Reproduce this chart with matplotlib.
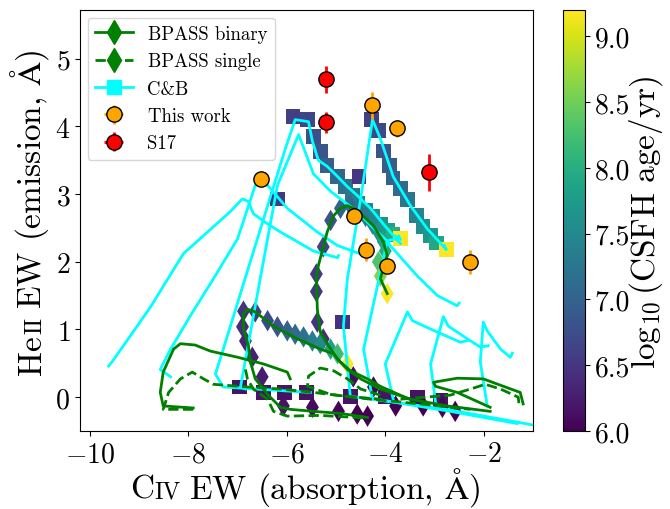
import numpy as np
import matplotlib
matplotlib.use('Agg')
import matplotlib.pyplot as plt
from matplotlib.lines import Line2D
from matplotlib.colors import Normalize
from matplotlib.cm import ScalarMappable

plt.rcParams['font.family'] = ['cmr10', 'DejaVu Serif']
plt.rcParams['mathtext.fontset'] = 'cm'
plt.rcParams['axes.formatter.use_mathtext'] = True

# C&B model tracks (CIV EW, HeII EW)
cb1_x = [-9.62, -9.54, -8.77, -8.10, -7.15, -6.90, -6.78, -6.68, -6.39, -6.13, -5.46, -4.97, -4.95]
cb1_y = [0.46, 0.53, 1.33, 2.12, 2.74, 2.93, 2.89, 2.71, 2.56, 2.44, 2.16, 2.06, 2.09]
cb2_x = [-8.36, -8.57, -8.36, -7.96, -7.49, -7.00, -6.64, -6.52, -6.33, -5.99, -5.38, -4.97, -4.44]
cb2_y = [0.30, 0.41, 0.71, 1.20, 1.75, 2.34, 3.13, 3.23, 3.08, 2.79, 2.44, 2.24, 2.10]
cb3_x = [-5.52, -7.29, -7.45, -7.29, -6.47, -6.03, -5.83, -5.56, -5.48, -5.36, -5.18, -4.97, -4.77, -4.57, -4.30, -4.04, -3.84, -3.69, -3.73]
cb3_y = [0.07, 0.15, 0.34, 0.71, 2.64, 3.67, 4.10, 4.07, 3.78, 3.50, 3.41, 3.26, 3.11, 2.98, 2.79, 2.56, 2.39, 2.33, 2.38]
cb4_x = [-6.84, -6.94, -6.54, -6.19, -5.76, -5.46, -5.11, -4.57, -4.16, -3.96, -3.90, -3.35, -2.94, -2.54, -2.50]
cb4_y = [0.12, 0.15, 1.75, 3.13, 3.88, 3.30, 3.04, 2.74, 2.44, 2.31, 2.24, 1.79, 1.50, 1.35, 1.39]
cb5_x = [-1.32, -2.68, -4.10, -4.71, -4.85, -4.77, -4.50, -4.26, -4.10, -3.84, -3.49, -3.15, -2.76, -2.80]
cb5_y = [-0.39, -0.21, -0.04, 0.01, 1.05, 1.75, 2.93, 4.10, 3.82, 3.26, 2.83, 2.49, 2.18, 2.24]
cb6_x = [-1.01, -2.68, -4.26, -4.44, -3.96, -3.79, -3.69]
cb6_y = [-0.41, -0.19, -0.03, 0.71, 2.31, 2.34, 2.27]
cb7_x = [-3.84, -4.00, -3.55, -3.45, -2.94, -2.47, -2.31]
cb7_y = [-0.03, 0.49, 1.26, 1.13, 0.96, 0.81, 0.84]
cb8_x = [-2.98, -3.08, -2.82, -2.72, -2.33, -2.07, -1.91]
cb8_y = [-0.07, 0.49, 1.19, 1.05, 0.86, 0.74, 0.76]
cb9_x = [-1.93, -2.07, -2.01, -1.93, -1.66, -1.46, -1.42]
cb9_y = [-0.13, 0.52, 1.11, 0.98, 0.71, 0.59, 0.65]

# C&B model points coloured by log age
cbs_x = [-5.87, -5.58, -5.46, -5.32, -5.18, -4.97, -4.81, -4.67, -4.55, -4.40, -4.26, -4.10, -3.96, -3.84, -3.69,
         -4.28, -4.14, -4.04, -3.92, -3.84, -3.69, -3.55, -3.37, -3.23, -3.08, -2.96, -2.76,
         -6.19, -4.53, -4.87,
         -6.96, -6.47, -6.05, -5.60, -4.71, -4.00, -3.35, -2.88]
cbs_y = [4.15, 4.10, 3.85, 3.63, 3.42, 3.26, 3.11, 2.98, 2.87, 2.76, 2.67, 2.56, 2.47, 2.40, 2.34,
         4.10, 3.94, 3.64, 3.42, 3.24, 3.08, 2.92, 2.68, 2.52, 2.39, 2.28, 2.18,
         2.93, 3.26, 1.11,
         0.15, 0.07, 0.07, 0.07, 0.01, 0.00, 0.00, -0.04]
cbs_age = [6.6, 6.65, 6.75, 6.85, 6.95, 7.05, 7.15, 7.25, 7.35, 7.45, 7.55, 7.65, 7.8, 8.0, 9.2,
           6.6, 6.7, 6.8, 6.9, 7.0, 7.1, 7.25, 7.4, 7.55, 7.7, 7.9, 9.2,
           6.5, 6.5, 6.45,
           6.15, 6.15, 6.15, 6.15, 6.15, 6.15, 6.15, 6.15]

# BPASS binary tracks (solid)
bb1_x = [-3.96, -4.10, -4.06, -3.96, -4.04, -4.24, -4.57, -4.77, -4.91, -5.05, -5.18, -5.36, -5.40, -5.38, -5.32, -5.18, -4.97, -4.77, -4.50, -4.10, -3.49, -2.74, -1.87]
bb1_y = [1.53, 1.75, 1.85, 2.09, 2.30, 2.53, 2.76, 2.83, 2.79, 2.68, 2.44, 1.94, 1.75, 1.30, 0.96, 0.79, 0.56, 0.41, 0.27, 0.12, -0.03, -0.13, -0.21]
bb2_x = [-4.36, -4.91, -5.46, -5.93, -6.13, -6.39, -6.64, -6.74, -6.78, -6.88, -6.88, -6.80, -6.64, -6.27, -5.78, -5.32, -5.05, -4.91, -4.71, -4.36, -4.10, -3.51]
bb2_y = [-0.30, -0.24, -0.21, -0.18, -0.15, 0.04, 0.27, 0.52, 0.76, 1.01, 1.23, 1.30, 1.26, 1.05, 0.86, 0.71, 0.64, 0.52, 0.39, 0.27, 0.16, -0.03]
bb3_x = [-7.90, -8.51, -8.57, -8.51, -8.30, -8.16, -7.86, -7.55, -7.00, -6.47, -5.99, -5.93]
bb3_y = [-0.16, -0.13, 0.07, 0.37, 0.71, 0.79, 0.77, 0.68, 0.59, 0.49, 0.37, 0.27]
bb4_x = [-1.87, -2.54, -2.98, -3.02, -2.54, -2.01, -1.60, -1.26, -1.20]
bb4_y = [-0.15, 0.07, 0.16, 0.22, 0.28, 0.27, 0.16, 0.07, -0.10]

# BPASS single tracks (dashed)
bs1_x = [-7.90, -8.51, -8.40, -8.16, -7.92, -7.69, -7.49, -6.80, -6.13, -5.46, -4.77, -4.10]
bs1_y = [-0.18, -0.18, 0.07, 0.27, 0.37, 0.27, 0.19, 0.15, 0.12, 0.07, 0.01, -0.03]
bs2_x = [-4.10, -4.50, -4.77, -5.05, -5.32, -5.56, -5.58, -5.11, -4.30, -3.29, -2.27]
bs2_y = [0.03, 0.12, 0.27, 0.39, 0.43, 0.31, 0.16, 0.04, -0.03, -0.10, -0.18]
bs3_x = [-6.84, -6.80, -6.68, -6.39, -6.27, -5.99, -5.32, -4.36]
bs3_y = [0.41, 0.27, 0.12, -0.03, -0.21, -0.28, -0.27, -0.31]
bs4_x = [-3.69, -2.68, -2.27, -1.97, -1.66, -1.30, -1.28]
bs4_y = [-0.03, 0.03, 0.12, 0.19, 0.12, 0.00, -0.13]

# BPASS model points coloured by log age
bp_x = [-4.24, -4.65, -5.26, -5.38, -5.40, -5.40, -5.26, -5.11, -4.91, -4.71, -4.55, -4.40, -4.26, -4.14, -4.04, -4.00, -4.14, -4.10, -3.96,
        -4.36, -4.57, -4.95, -5.48, -6.07, -6.50, -6.70, -6.84, -6.90, -6.88,
        -6.64, -6.39, -6.19, -5.99, -5.83, -5.66, -5.48, -5.32, -5.11, -4.97, -4.77,
        -3.79, -3.23, -2.84, -2.58]
bp_y = [0.15, 0.30, 0.86, 1.11, 1.56, 1.82, 2.22, 2.61, 2.79, 2.83, 2.76, 2.67, 2.56, 2.44, 2.30, 2.16, 2.00, 1.79, 1.53,
        -0.28, -0.25, -0.21, -0.15, -0.13, 0.30, 0.59, 0.83, 1.04, 1.27,
        1.26, 1.13, 1.04, 0.98, 0.93, 0.89, 0.83, 0.79, 0.71, 0.64, 0.49,
        -0.13, -0.13, -0.15, -0.21]
bp_age = [6.05, 6.1, 6.4, 6.45, 6.5, 6.55, 6.65, 6.8, 7.0, 7.1, 7.2, 7.3, 7.45, 7.6, 7.8, 7.95, 8.3, 8.6, 9.2,
          6.0, 6.0, 6.05, 6.1, 6.15, 6.25, 6.3, 6.35, 6.4, 6.45,
          6.55, 6.7, 6.85, 7.0, 7.1, 7.2, 7.35, 7.5, 7.8, 8.2, 9.2,
          6.0, 6.0, 6.05, 6.0]

# Observations
tw_x = [-6.52, -4.26, -3.76, -4.63, -4.40, -3.96, -2.27]
tw_y = [3.23, 4.31, 3.97, 2.68, 2.18, 1.94, 2.00]
tw_xerr = [0.1, 0.1, 0.1, 0.1, 0.1, 0.1, 0.1]
tw_yerr = [0.08, 0.2, 0.13, 0.1, 0.17, 0.08, 0.18]
s17_x = [-5.21, -5.20, -3.12]
s17_y = [4.70, 4.06, 3.32]
s17_xerr = [0.1, 0.1, 0.1]
s17_yerr = [0.2, 0.16, 0.27]

norm = Normalize(vmin=6.0, vmax=9.2)
cmap = 'viridis'

fig = plt.figure(figsize=(6.7, 5.1), dpi=100)
W, H = 670.0, 510.0
ax = fig.add_axes([80 / W, 78 / H, 453 / W, 421 / H])
cax = fig.add_axes([563 / W, 78 / H, 22 / W, 421 / H])

ax.scatter(cbs_x, cbs_y, c=cbs_age, cmap=cmap, norm=norm, marker='s', s=110, lw=0, zorder=1)
ax.scatter(bp_x, bp_y, c=bp_age, cmap=cmap, norm=norm, marker='d', s=120, lw=0, zorder=1)

for tx, ty in [(cb1_x, cb1_y), (cb2_x, cb2_y), (cb3_x, cb3_y), (cb4_x, cb4_y), (cb5_x, cb5_y),
               (cb6_x, cb6_y), (cb7_x, cb7_y), (cb8_x, cb8_y), (cb9_x, cb9_y)]:
    ax.plot(tx, ty, color='cyan', lw=2, zorder=2)
for tx, ty in [(bb1_x, bb1_y), (bb2_x, bb2_y), (bb3_x, bb3_y), (bb4_x, bb4_y)]:
    ax.plot(tx, ty, color='green', lw=2, zorder=2)
for tx, ty in [(bs1_x, bs1_y), (bs2_x, bs2_y), (bs3_x, bs3_y), (bs4_x, bs4_y)]:
    ax.plot(tx, ty, color='green', lw=2, ls='--', zorder=2)

tw = ax.errorbar(tw_x, tw_y, xerr=tw_xerr, yerr=tw_yerr, fmt='o', color='orange', mec='k',
                 ms=11, ecolor='orange', elinewidth=2, zorder=4, label='This work')
s17 = ax.errorbar(s17_x, s17_y, xerr=s17_xerr, yerr=s17_yerr, fmt='o', color='red', mec='k',
                  ms=11, ecolor='red', elinewidth=2, zorder=4, label='S17')

handles = [
    Line2D([], [], color='green', lw=2, marker='d', ms=12, label='BPASS binary'),
    Line2D([], [], color='green', lw=2, ls='--', marker='d', ms=12, label='BPASS single'),
    Line2D([], [], color='cyan', lw=2, marker='s', ms=10, label='C&B'),
    tw, s17,
]
ax.legend(handles=handles, loc='upper left', fontsize=13.5, labelspacing=0.5, borderpad=0.4,
          handletextpad=0.8, borderaxespad=0.4)

ax.set_xlim(-10.2, -1.0)
ax.set_ylim(-0.5, 5.72)
ax.set_xticks([-10, -8, -6, -4, -2])
ax.set_yticks([0, 1, 2, 3, 4, 5])
ax.tick_params(labelsize=20)

cb = fig.colorbar(ScalarMappable(norm=norm, cmap=cmap), cax=cax)
cb.set_ticks(np.arange(6.0, 9.01, 0.5))
cb.ax.set_yticklabels(['%.1f' % v for v in np.arange(6.0, 9.01, 0.5)])
cb.ax.tick_params(labelsize=20)
fig.text(646 / W, 1 - 222 / H, r'$\log_{10}(\mathrm{CSFH\ age/yr})$', rotation=90,
         ha='center', va='center', fontsize=24)


def small_caps_label(pieces, centre, base, vertical=False):
    # pieces: (text, fontsize, gap after in px); placed end to end on one baseline
    renderer = fig.canvas.get_renderer()
    rot = 90 if vertical else 0
    texts = [fig.text(0, 0, s, fontsize=fs, rotation=rot, rotation_mode='anchor',
                      ha='left', va='baseline') for s, fs, g in pieces]
    lens = []
    for t in texts:
        bb = t.get_window_extent(renderer)
        lens.append(bb.height if vertical else bb.width)
    total = sum(lens) + sum(g for s, fs, g in pieces)
    pos = centre - total / 2
    for t, l, (s, fs, g) in zip(texts, lens, pieces):
        if vertical:
            t.set_position((base / W, pos / H))
        else:
            t.set_position((pos / W, base / H))
        pos += l + g


small_caps_label([('C', 24, 1), ('IV', 17, 8), (r'EW (absorption, $\mathrm{\AA}$)', 24, 0)],
                 centre=305, base=11)
small_caps_label([('He', 24, 1), ('II', 17, 8), (r'EW (emission, $\mathrm{\AA}$)', 24, 0)],
                 centre=298, base=41, vertical=True)

fig.savefig('out.png', dpi=100)
